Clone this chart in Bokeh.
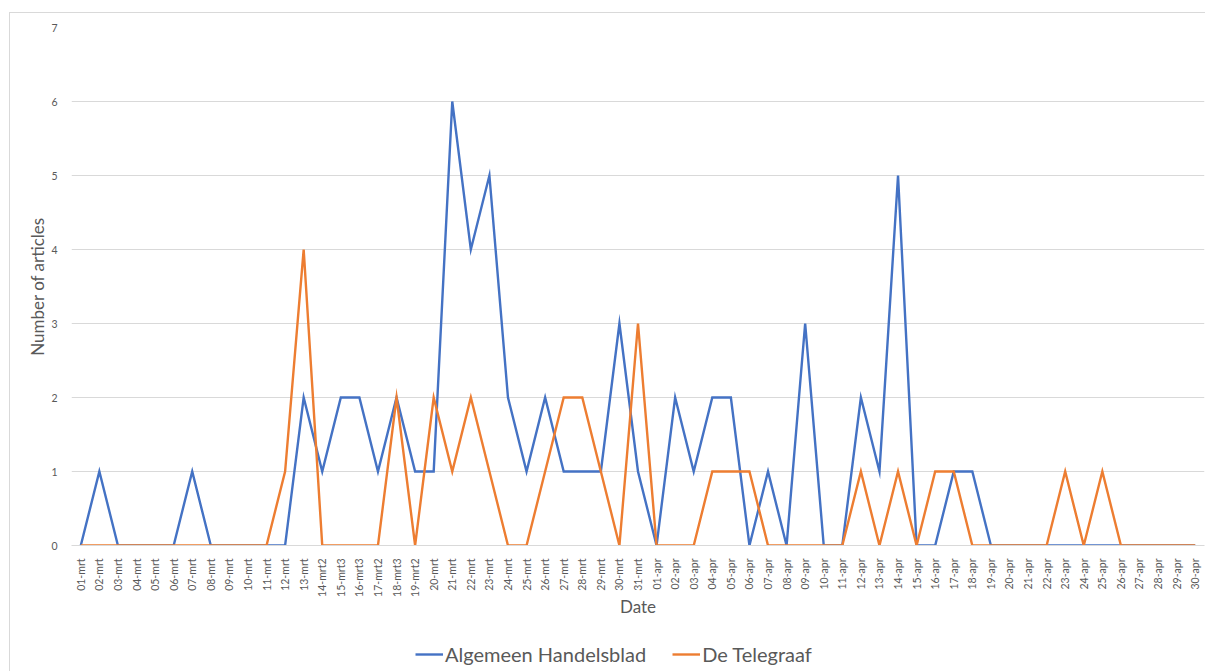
from math import pi
from bokeh.plotting import figure
from bokeh.layouts import column
from bokeh.models import Range1d, FactorRange, Legend, LegendItem, FixedTicker, InlineStyleSheet
from bokeh.embed import file_html
from bokeh.resources import INLINE

dates = ([f"{d:02d}-mrt" for d in range(1, 14)]
         + ["14-mrt2", "15-mrt3", "16-mrt3", "17-mrt2", "18-mrt3", "19-mrt2"]
         + [f"{d:02d}-mrt" for d in range(20, 32)]
         + [f"{d:02d}-apr" for d in range(1, 31)])

handelsblad = [0, 1, 0, 0, 0, 0, 1, 0, 0, 0, 0, 0,
               2, 1, 2, 2, 1, 2, 1, 1, 6, 4, 5, 2, 1, 2, 1, 1, 1, 3, 1,
               0, 2, 1, 2, 2, 0, 1, 0, 3, 0, 0, 2, 1, 5, 0, 0, 1, 1,
               0, 0, 0, 0, 0, 0, 0, 0, 0, 0, 0, 0]

telegraaf = [0, 0, 0, 0, 0, 0, 0, 0, 0, 0, 0, 1,
             4, 0, 0, 0, 0, 2, 0, 2, 1, 2, 1, 0, 0, 1, 2, 2, 1, 0, 3,
             0, 0, 0, 1, 1, 1, 0, 0, 0, 0, 0, 1, 0, 1, 0, 1, 1, 0,
             0, 0, 0, 0, 1, 0, 1, 0, 0, 0, 0, 0]

series_names = ["Algemeen Handelsblad", "De Telegraaf"]
y_ticks = [0, 1, 2, 3, 4, 5, 6, 7]

FONT = "Lato"
TXT = "#595959"
GRID = "#d9d9d9"
BLUE = "#4472C4"
ORANGE = "#ED7D31"

p = figure(width=1205, height=634,
           x_range=FactorRange(*dates, range_padding=0),
           y_range=Range1d(0, 7),
           output_backend="svg", toolbar_location=None,
           min_border_left=71, min_border_right=1,
           min_border_top=27, min_border_bottom=89)

p.outline_line_color = None
p.background_fill_color = "white"
p.border_fill_color = "white"

p.line(x=dates, y=handelsblad, line_color=BLUE, line_width=2.4, line_join="miter")
p.line(x=dates, y=telegraaf, line_color=ORANGE, line_width=2.4, line_join="miter")

p.yaxis.ticker = FixedTicker(ticks=y_ticks)
p.yaxis.axis_line_color = None
p.yaxis.major_tick_line_color = None
p.yaxis.minor_tick_line_color = None
p.yaxis.major_label_text_font = FONT
p.yaxis.major_label_text_font_size = "10.5px"
p.yaxis.major_label_text_color = TXT
p.yaxis.major_label_standoff = 8
p.yaxis.axis_label = "Number of articles"
p.yaxis.axis_label_text_font = FONT
p.yaxis.axis_label_text_font_size = "17px"
p.yaxis.axis_label_text_font_style = "normal"
p.yaxis.axis_label_text_color = TXT
p.yaxis.axis_label_standoff = 0

p.xaxis.axis_line_color = GRID
p.xaxis.major_tick_line_color = None
p.xaxis.minor_tick_line_color = None
p.xaxis.major_label_orientation = pi / 2
p.xaxis.major_label_text_font = FONT
p.xaxis.major_label_text_font_size = "10.5px"
p.xaxis.major_label_text_color = TXT
p.xaxis.major_label_standoff = 7
p.xaxis.axis_label = "Date"
p.xaxis.axis_label_text_font = FONT
p.xaxis.axis_label_text_font_size = "17px"
p.xaxis.axis_label_text_font_style = "normal"
p.xaxis.axis_label_text_color = TXT
p.xaxis.axis_label_standoff = -4

p.xgrid.grid_line_color = None
p.ygrid.grid_line_color = GRID
p.ygrid.grid_line_width = 1

# legend strip below the chart (legend keys drawn off-range so only the legend shows)
p2 = figure(width=1205, height=37, x_range=Range1d(0, 1), y_range=Range1d(0, 1),
            output_backend="svg", toolbar_location=None, min_border=0,
            x_axis_location=None, y_axis_location=None)
p2.grid.visible = False
p2.outline_line_color = None
p2.background_fill_color = "white"
p2.border_fill_color = "white"
k1 = p2.line(x=[-5, -4], y=[-5, -4], line_color=BLUE, line_width=2.4)
k2 = p2.line(x=[-5, -4], y=[-5, -4], line_color=ORANGE, line_width=2.4)
legend = Legend(items=[LegendItem(label=series_names[0], renderers=[k1]),
                       LegendItem(label=series_names[1], renderers=[k2])],
                orientation="horizontal", location=(344, 5),
                label_text_font=FONT, label_text_font_size="20px",
                label_text_color=TXT, glyph_width=28, label_standoff=2,
                spacing=26, background_fill_alpha=0, border_line_color=None,
                padding=4, margin=0)
p2.add_layout(legend)

frame_css = InlineStyleSheet(css="""
:host { position: relative; }
:host::before {
  content: ""; position: absolute; left: 9px; top: 12px; right: 0; bottom: 0;
  border-left: 1px solid #d9d9d9; border-top: 1px solid #d9d9d9;
  pointer-events: none; z-index: 5;
}
""")

layout = column(p, p2, spacing=0, stylesheets=[frame_css])

open("out.html", "w").write(file_html(layout, INLINE))
